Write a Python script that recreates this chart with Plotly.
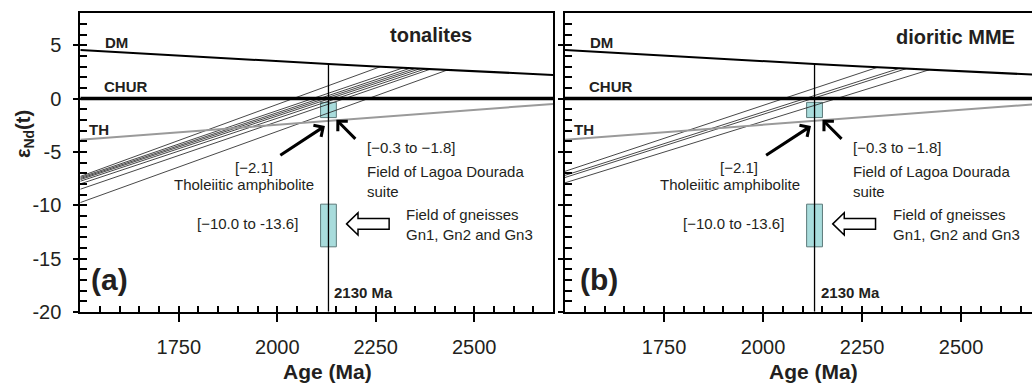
import plotly.graph_objects as go
import numpy as np

# ---------------- data ----------------
dm_age = [1500, 1750, 2000, 2130, 2250, 2500, 2700]
dm_eps = [4.56, 4.02, 3.50, 3.24, 3.02, 2.56, 2.22]
chur_age = [1500, 2700]
chur_eps = [0, 0]
th_age = [1500, 2700]
th_eps = [-3.85, -0.50]

ton_start_age = 1500
ton_start_eps = [-7.3, -7.4, -7.5, -7.6, -7.75, -8.0, -8.5, -9.75]
ton_end_age = [2262, 2320, 2338, 2351, 2363, 2376, 2389, 2432]

mme_start_eps = [-6.82, -7.2, -7.4, -7.9]
mme_end_age = [2290, 2345, 2362, 2420]

ref_age = 2130
ld_field_age = [2110, 2150]
ld_field_eps = [-0.35, -1.78]
gn_field_age = [2110, 2150]
gn_field_eps = [-9.9, -13.9]

x_ticks = [1750, 2000, 2250, 2500]
y_ticks = [5, 0, -5, -10, -15, -20]
y_ticklabels = ["5", "0", "-5", "-10", "-15", "-20"]

FONT = "Liberation Sans, Arial, sans-serif"
TXT = "#231f20"

fig = go.Figure()

panels = [
    dict(x="x", y="y", mx="x3", my="y3", start=ton_start_eps, end=ton_end_age, title="tonalites",
         title_x=2500, title_y=5.97, tag="(a)", tag_x=1522, xr=[1500, 2700]),
    dict(x="x2", y="y2", mx="x4", my="y4", start=mme_start_eps, end=mme_end_age, title="dioritic MME",
         title_x=2641, title_y=5.8, tag="(b)", tag_x=1533, xr=[1500, 2679]),
]

line_kw = dict(mode="lines", showlegend=False, hoverinfo="skip")

for p in panels:
    xa, ya = p["x"], p["y"]
    # sample evolution lines
    for s, e in zip(p["start"], p["end"]):
        e_eps = float(np.interp(e, dm_age, dm_eps))
        fig.add_trace(go.Scatter(x=[ton_start_age, e], y=[s, e_eps], xaxis=xa, yaxis=ya,
                                 line=dict(color="#333333", width=0.9), **line_kw))
    # TH
    fig.add_trace(go.Scatter(x=th_age, y=th_eps, xaxis=xa, yaxis=ya,
                             line=dict(color="#9a9a9a", width=2), **line_kw))
    # CHUR
    fig.add_trace(go.Scatter(x=chur_age, y=chur_eps, xaxis=xa, yaxis=ya,
                             line=dict(color="black", width=3.5), **line_kw))
    # DM
    fig.add_trace(go.Scatter(x=dm_age, y=dm_eps, xaxis=xa, yaxis=ya,
                             line=dict(color="black", width=2), **line_kw))
    # vertical reference line at 2130 Ma
    fig.add_trace(go.Scatter(x=[ref_age, ref_age],
                             y=[float(np.interp(ref_age, dm_age, dm_eps)), -20],
                             xaxis=xa, yaxis=ya,
                             line=dict(color="black", width=1.3), **line_kw))
    # invisible trace on minor-tick overlay axes
    fig.add_trace(go.Scatter(x=[p["xr"][0]], y=[-20], xaxis=p["mx"], yaxis=p["my"],
                             mode="markers", marker=dict(opacity=0), showlegend=False,
                             hoverinfo="skip"))
    # fields (boxes)
    for fa, fe in [(ld_field_age, ld_field_eps), (gn_field_age, gn_field_eps)]:
        fig.add_shape(type="rect", xref=xa, yref=ya, x0=fa[0], x1=fa[1], y0=fe[0], y1=fe[1],
                      fillcolor="#a8dcdc", line=dict(color="#5c7a7a", width=1), layer="below")
    # hollow arrow pointing at gneiss field
    tip, base, tail = 2176, 2205, 2284
    yc, hh, sh = -11.75, 1.05, 0.5
    path = (f"M {tip},{yc} L {base},{yc + hh} L {base},{yc + sh} L {tail},{yc + sh} "
            f"L {tail},{yc - sh} L {base},{yc - sh} L {base},{yc - hh} Z")
    fig.add_shape(type="path", xref=xa, yref=ya, path=path, fillcolor="white",
                  line=dict(color="black", width=1.5))

    def ann(text, x, y, size=15, bold=False, xanchor="left", **kw):
        t = f"<b>{text}</b>" if bold else text
        fig.add_annotation(text=t, x=x, y=y, xref=xa, yref=ya, showarrow=False,
                           xanchor=xanchor, yanchor="middle",
                           font=dict(family=FONT, size=size, color=TXT), **kw)

    ann("DM", 1557, 5.28, size=15, bold=True)
    ann("CHUR", 1555, 1.1, size=15, bold=True)
    ann("TH", 1517, -2.92, size=15, bold=True)
    ann(p["title"], p["title_x"], p["title_y"], size=20, bold=True, xanchor="right")
    ann(p["tag"], p["tag_x"], -17.0, size=30, bold=True)
    ann("2130 Ma", 2140, -18.2, size=15, bold=True)
    ann("[\u22122.1]", 1940, -6.5, size=15, xanchor="center")
    ann("Tholeiitic amphibolite", 1916, -8.1, size=15, xanchor="center")
    ann("[\u22120.3 to \u22121.8]", 2222, -4.55, size=15)
    ann("Field of Lagoa Dourada<br>suite", 2222, -7.75, size=15, align="left")
    ann("[\u221210.0 to -13.6]", 2058, -11.72, size=15, xanchor="right")
    ann("Field of gneisses<br>Gn1, Gn2 and Gn3", 2323, -11.8, size=15, align="left")
    fig.add_annotation(text="<b>Age (Ma)</b>", x=2127, y=8 / 390, xref=xa, yref="paper",
                       showarrow=False, xanchor="center", yanchor="middle",
                       font=dict(family=FONT, size=21, color=TXT))

    # black arrows
    for (tx, ty), (ax_, ay_) in [((2121, -2.57), (2004, -5.4)), ((2150, -1.98), (2202, -3.92))]:
        fig.add_annotation(x=tx, y=ty, ax=ax_, ay=ay_, xref=xa, yref=ya, axref=xa, ayref=ya,
                           text="", showarrow=True, arrowhead=4, arrowsize=0.9,
                           arrowwidth=3, arrowcolor="black", standoff=0)

# y-axis title
fig.add_annotation(text="<b>\u03b5<sub>Nd</sub>(t)</b>", x=24 / 1032, y=(390 - 138) / 390,
                   xref="paper", yref="paper", showarrow=False, textangle=-90,
                   xanchor="center", yanchor="middle",
                   font=dict(family=FONT, size=20, color=TXT))

ydom = [(390 - 320.9) / 390, (390 - 13.7) / 390]
common_x = dict(showgrid=False, zeroline=False, showline=True, linecolor="black", linewidth=2,
                mirror=True, ticks="outside", ticklen=8, tickwidth=2, tickcolor="black",
                tickmode="array", tickvals=x_ticks, ticklabelstandoff=8,
                tickfont=dict(family=FONT, size=20, color=TXT))
common_y = dict(showgrid=False, zeroline=False, showline=True, linecolor="black", linewidth=2,
                ticks="outside", ticklen=5, tickwidth=2, tickcolor="black",
                tickmode="array", tickvals=y_ticks, ticktext=y_ticklabels,
                range=[-20, 8], domain=ydom, ticklabelstandoff=8,
                tickfont=dict(family=FONT, size=20, color=TXT))
minor_x = dict(showgrid=False, zeroline=False, showline=False, showticklabels=False,
               ticks="inside", ticklen=6, tickwidth=2, tickcolor="black",
               tickmode="linear", tick0=1500, dtick=50)
minor_y = dict(showgrid=False, zeroline=False, showline=False, showticklabels=False,
               ticks="inside", ticklen=7, tickwidth=2, tickcolor="black",
               tickmode="linear", tick0=0, dtick=1, range=[-20, 8])

fig.update_layout(
    width=1032, height=390,
    margin=dict(l=0, r=0, t=0, b=0),
    paper_bgcolor="white", plot_bgcolor="white",
    showlegend=False,
    xaxis=dict(domain=[80.3 / 1032, 553 / 1032], range=[1500, 2700], anchor="y", **common_x),
    yaxis=dict(anchor="x", mirror=True, **common_y),
    xaxis2=dict(domain=[565 / 1032, 1.0], range=[1500, 2679], anchor="y2", **common_x),
    yaxis2=dict(anchor="x2", mirror=False, showticklabels=False, **common_y),
    xaxis3=dict(overlaying="x", anchor="y3", range=[1500, 2700], **minor_x),
    yaxis3=dict(overlaying="y", anchor="x3", **minor_y),
    xaxis4=dict(overlaying="x2", anchor="y4", range=[1500, 2679], **minor_x),
    yaxis4=dict(overlaying="y2", anchor="x4", **minor_y),
)

fig.write_html("out.html")
